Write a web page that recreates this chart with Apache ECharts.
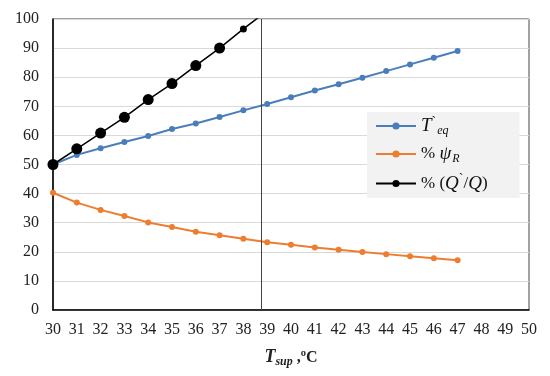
<!DOCTYPE html>
<html>
<head>
<meta charset="utf-8">
<script src="https://cdn.jsdelivr.net/npm/echarts@6/dist/echarts.min.js"></script>
<style>html,body{margin:0;padding:0;background:#fff}#c{width:550px;height:376px}</style>
</head>
<body>
<div id="c"></div>
<script>
const xValues = [30,31,32,33,34,35,36,37,38,39,40,41,42,43,44,45,46,47];
const teq = [50.0,53.3,55.6,57.7,59.8,62.2,64.1,66.3,68.6,70.8,73.1,75.4,77.6,79.8,82.1,84.4,86.7,89.0];
const psiR = [40.3,36.9,34.4,32.3,30.1,28.5,26.9,25.7,24.5,23.3,22.4,21.5,20.7,19.9,19.2,18.5,17.8,17.1];
const qRatioX = [30,31,32,33,34,35,36,37,38,39];
const qRatio = [50.0,55.4,60.8,66.2,72.3,77.8,84.0,90.0,96.6,102.8];
const markerX = 38.77;
const seriesNames = ['teq','psi','q'];

const pairs = (xs, ys) => xs.map((x, i) => [x, ys[i]]);
const serif = 'Liberation Serif';

const chart = echarts.init(document.getElementById('c'), null, {renderer: 'canvas'});
chart.setOption({
  animation: false,
  grid: {left: 53, top: 19, right: 21, bottom: 66, show: true, borderColor: '#444', borderWidth: 1},
  legend: {
    orient: 'vertical',
    left: 367, top: 112,
    padding: [3, 32, 5, 8],
    backgroundColor: '#f2f2f2',
    itemWidth: 40, itemHeight: 9, itemGap: 8,
    data: seriesNames,
    formatter: function (n) {
      if (n === 'teq') return '{it|T}{tk|`}{sub|eq}';
      if (n === 'psi') return '{rm|% }{it|ψ}{sub|R}';
      return '{rm|% (}{it|Q}{tk|`}{rm|/}{it|Q}{rm|)}';
    },
    textStyle: {
      fontFamily: serif, fontSize: 17, color: '#111',
      rich: {
        it: {fontFamily: serif, fontStyle: 'italic', fontSize: 19, color: '#111'},
        rm: {fontFamily: serif, fontSize: 17, color: '#111'},
        tk: {fontFamily: serif, fontSize: 14, color: '#111', padding: [0, 0, 8, 0]},
        sub: {fontFamily: serif, fontStyle: 'italic', fontSize: 12, color: '#111', padding: [9, 0, 0, 1]}
      }
    }
  },
  xAxis: {
    type: 'value', min: 30, max: 50, interval: 1,
    axisLine: {show: true, lineStyle: {color: '#000', width: 1.5}},
    axisTick: {show: false},
    splitLine: {show: false},
    axisLabel: {fontFamily: serif, fontSize: 16, color: '#222', margin: 12},
    name: '{it|T}{sub|sup}{rm| ,ºC}',
    nameLocation: 'middle', nameGap: 37,
    nameTextStyle: {
      rich: {
        it: {fontFamily: serif, fontStyle: 'italic', fontWeight: 'bold', fontSize: 18, color: '#222'},
        sub: {fontFamily: serif, fontStyle: 'italic', fontWeight: 'bold', fontSize: 12, color: '#222', padding: [9, 0, 0, 0]},
        rm: {fontFamily: serif, fontWeight: 'bold', fontSize: 16, color: '#222'}
      }
    }
  },
  yAxis: {
    type: 'value', min: 0, max: 100, interval: 10,
    axisLine: {show: true, lineStyle: {color: '#000', width: 1.5}},
    axisTick: {show: false},
    splitLine: {show: true, lineStyle: {color: '#d9d9d9', width: 1}},
    axisLabel: {fontFamily: serif, fontSize: 16, color: '#222', margin: 14}
  },
  series: [
    {
      name: 'teq', type: 'line', data: pairs(xValues, teq),
      symbol: 'circle', symbolSize: 6,
      lineStyle: {color: '#4a7ebb', width: 2},
      itemStyle: {color: '#4a7ebb'},
      z: 3,
      markLine: {
        silent: true, symbol: 'none', label: {show: false},
        lineStyle: {color: '#444', width: 1, type: 'solid'},
        data: [{xAxis: markerX}]
      }
    },
    {
      name: 'psi', type: 'line', data: pairs(xValues, psiR),
      symbol: 'circle', symbolSize: 6,
      lineStyle: {color: '#ed7d31', width: 2},
      itemStyle: {color: '#ed7d31'},
      z: 3
    },
    {
      name: 'q', type: 'line', data: pairs(qRatioX, qRatio),
      symbol: 'circle',
      symbolSize: function (v, p) { return p.dataIndex === 8 ? 7 : 11; },
      lineStyle: {color: '#000', width: 1.5},
      itemStyle: {color: '#000'},
      clip: true,
      z: 4
    }
  ]
});
</script>
</body>
</html>
